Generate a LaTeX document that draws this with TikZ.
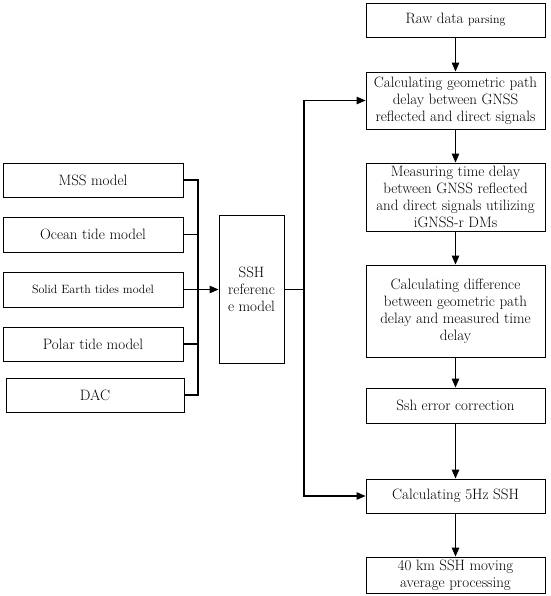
\documentclass[tikz,border=0pt]{standalone}
\usetikzlibrary{arrows.meta}
\tikzset{
  box/.style={draw, line width=0.9pt, align=center, inner sep=1pt, minimum width=179pt},
  lbox/.style={draw, line width=0.9pt, align=center, inner sep=1pt, minimum width=180pt, minimum height=34pt},
  arr/.style={-{Triangle[length=9pt,width=7.5pt]}},
  link/.style={line width=1.1pt}
}
\begin{document}
\begin{tikzpicture}[x=1pt,y=-1pt,font=\fontsize{15}{17}\selectfont]
\useasboundingbox (0,0) rectangle (550,596);
% processing chain
\node[box, minimum height=34pt] (raw) at (455.5,20) {Raw data {\fontsize{12}{14}\selectfont parsing}};
\node[box, minimum height=57pt] (geom) at (455.5,100.5) {Calculating geometric path\\delay between GNSS\\reflected and direct signals};
\node[box, minimum height=68pt] (meas) at (455.5,197) {Measuring time delay\\between GNSS reflected\\and direct signals utilizing\\iGNSS-r DMs};
\node[box, minimum height=92pt] (diff) at (455.5,311) {Calculating difference\\between geometric path\\delay and measured time\\delay};
\node[box, minimum height=35pt] (err) at (455.5,405.5) {Ssh error correction};
\node[box, minimum height=34pt] (hz) at (455.5,496) {Calculating 5Hz SSH};
\node[box, minimum height=36pt] (avg) at (455.5,575) {40 km SSH moving\\average processing};
% models
\node[lbox] (mss) at (93,180) {MSS model};
\node[lbox, minimum height=35pt] (ocean) at (93,234.5) {Ocean tide model};
\node[lbox, minimum height=35pt] (solid) at (93,289.5) {\fontsize{12}{14}\selectfont Solid Earth tides model};
\node[lbox] (polar) at (93,344) {Polar tide model};
\node[lbox, minimum width=178pt] (dac) at (95,395) {DAC};
\node[draw, line width=0.9pt, align=center, inner sep=1pt, minimum width=65pt, minimum height=148pt] (ref) at (251.5,289.5) {SSH\\referenc\\e model};
% connectors
\coordinate (lbus) at (198,0);
\coordinate (rbus) at (304,0);
\draw[link] (mss.east) -| (dac.east -| lbus) -- (dac.east);
\foreach \m in {ocean,polar}
  \draw[link] (\m.east) -- (\m.east -| lbus);
\draw[link,arr] (solid.east) -- (ref.west);
\draw[link] (ref.east) -- (ref.east -| rbus);
\draw[link,arr] (ref.east -| rbus) |- (geom.west);
\draw[link,arr] (ref.east -| rbus) |- (hz.west);
\draw[link,arr] (raw) -- (geom);
\draw[link,arr] (geom) -- (meas);
\draw[link,arr] (meas) -- (diff);
\draw[link,arr] (diff) -- (err);
\draw[link,arr] (err) -- (hz);
\draw[link,arr] (hz) -- (avg);
\end{tikzpicture}
\end{document}
